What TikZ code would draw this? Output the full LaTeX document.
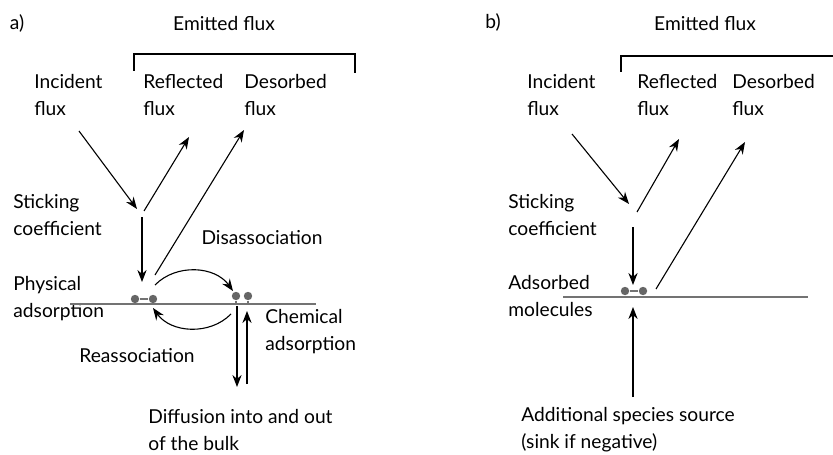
\documentclass[tikz,border=0pt]{standalone}
\usepackage{fontspec}
\setmainfont{Lato}
\usetikzlibrary{arrows.meta}
\tikzset{
  lbl/.style={anchor=west,align=left,inner sep=0pt,font=\fontsize{9.6}{13.5}\selectfont},
  ttl/.style={inner sep=0pt,font=\fontsize{9.6}{13.5}\selectfont},
  flow/.style={-{Stealth[length=6pt,width=4.6pt]},line width=0.55pt},
  surf/.style={draw=black!55,line width=0.65pt},
  atom/.style={circle,fill=black!60,inner sep=0pt,minimum size=4.2pt},
  bracket/.style={line width=0.8pt}
}
\begin{document}
\begin{tikzpicture}[x=0.5pt,y=-0.5pt]
  \useasboundingbox (0,0) rectangle (833,454);
  % a)
  \node[ttl] (taga) at (17,23) {a)};
  \node[ttl] (emita) at (224,24) {Emitted flux};
  \draw[bracket] (134,71) |- (355,54) -- (355,73);
  \node[lbl] (inca) at (34,95) {Incident\\flux};
  \node[lbl] (refa) at (143,95) {Reflected\\flux};
  \node[lbl] (desa) at (244,95) {Desorbed\\flux};
  \node[lbl] (sticka) at (13,215) {Sticking\\coefficient};
  \node[ttl] (disa) at (262,238) {Disassociation};
  \node[lbl] (physa) at (13,299) {Physical\\adsorption};
  \node[ttl] (reaa) at (137,356) {Reassociation};
  \node[lbl] (chema) at (265,332) {Chemical\\adsorption};
  \node[lbl] (diffa) at (148,430) {Diffusion into and out\\of the bulk};
  \draw[surf] (70,304) -- (316,304);
  \node[atom] (p1a) at (135,299) {};
  \node[atom] (p2a) at (153,299) {};
  \node[atom] (c1a) at (236,296) {};
  \node[atom] (c2a) at (248,296) {};
  \draw[surf] (p1a) -- (p2a);
  \draw[surf] (c1a) -- (236,304);
  \draw[surf] (c2a) -- (248,304);
  \coordinate (ia1) at (79,131);  \coordinate (ia2) at (137,209);
  \coordinate (ra1) at (144,211); \coordinate (ra2) at (189,137);
  \coordinate (da1) at (155,275); \coordinate (da2) at (244,130);
  \coordinate (sa1) at (142,217); \coordinate (sa2) at (142,282);
  \coordinate (dis1) at (155,285); \coordinate (dis2) at (233,291);
  \coordinate (rea1) at (231,314); \coordinate (rea2) at (153,308);
  \coordinate (dd1) at (237,306); \coordinate (dd2) at (237,387);
  \coordinate (du1) at (247,384); \coordinate (du2) at (247,311);
  \begin{scope}[flow]
    \draw (ia1) -- (ia2);
    \draw (ra1) -- (ra2);
    \draw (da1) -- (da2);
    \draw (sa1) -- (sa2);
    \draw (dis1) to[bend left=50] (dis2);
    \draw (rea1) to[bend left=50] (rea2);
    \draw (dd1) -- (dd2);
    \draw (du1) -- (du2);
  \end{scope}
  % b)
  \node[ttl] (tagb) at (493,22) {b)};
  \node[ttl] (emitb) at (705,24) {Emitted flux};
  \draw[bracket] (621,72) |- (833,56);
  \node[lbl] (incb) at (527,95) {Incident\\flux};
  \node[lbl] (refb) at (637,95) {Reflected\\flux};
  \node[lbl] (desb) at (732,95) {Desorbed\\flux};
  \node[lbl] (stickb) at (508,215) {Sticking\\coefficient};
  \node[lbl] (adsb) at (508,296) {Adsorbed\\molecules};
  \node[lbl] (addb) at (521,430) {Additional species source\\(sink if negative)};
  \draw[surf] (563,297) -- (808,297);
  \node[atom] (p1b) at (625,291) {};
  \node[atom] (p2b) at (643,291) {};
  \draw[surf] (p1b) -- (p2b);
  \coordinate (ib1) at (572,134); \coordinate (ib2) at (629,204);
  \coordinate (rb1) at (637,212); \coordinate (rb2) at (679,139);
  \coordinate (db1) at (656,289); \coordinate (db2) at (745,142);
  \coordinate (sb1) at (633,227); \coordinate (sb2) at (633,285);
  \coordinate (ub1) at (633,397); \coordinate (ub2) at (633,307);
  \begin{scope}[flow]
    \draw (ib1) -- (ib2);
    \draw (rb1) -- (rb2);
    \draw (db1) -- (db2);
    \draw (sb1) -- (sb2);
    \draw (ub1) -- (ub2);
  \end{scope}
\end{tikzpicture}
\end{document}
